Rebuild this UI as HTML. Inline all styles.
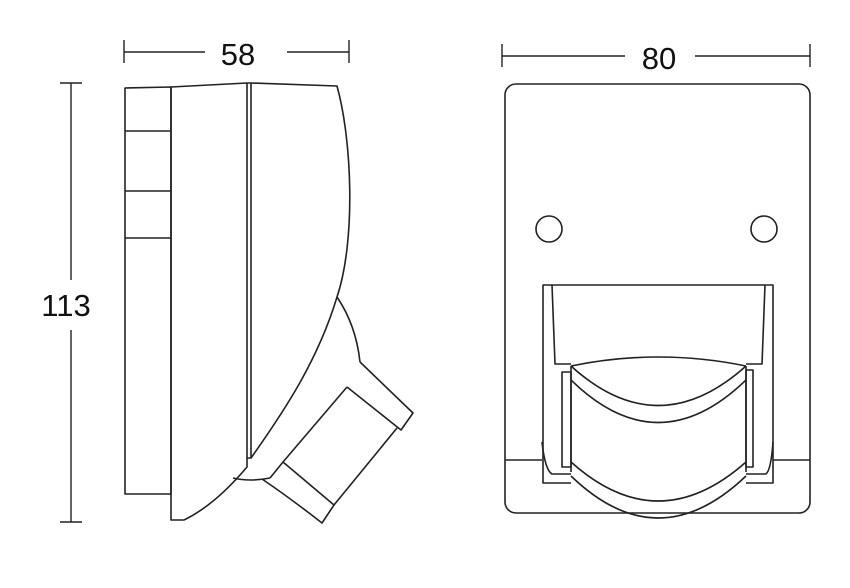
<!DOCTYPE html>
<html><head><style>html,body{margin:0;padding:0;background:#fff}svg{display:block}</style></head><body>
<svg width="850" height="588" viewBox="0 0 850 588" xmlns="http://www.w3.org/2000/svg" fill="none" stroke="#222" stroke-width="1.6" stroke-linejoin="round">
<g stroke-width="1.4">
<line x1="124" y1="40" x2="124" y2="63"/><line x1="349" y1="40" x2="349" y2="63"/>
<line x1="124" y1="52" x2="205" y2="52"/><line x1="287" y1="52" x2="349" y2="52"/>
<line x1="502" y1="44" x2="502" y2="67"/><line x1="810" y1="44" x2="810" y2="67"/>
<line x1="502" y1="56" x2="625" y2="56"/><line x1="695" y1="56" x2="810" y2="56"/>
<line x1="60" y1="83" x2="82" y2="83"/><line x1="60" y1="522" x2="82" y2="522"/>
<line x1="71" y1="83" x2="71" y2="280"/><line x1="71" y1="330" x2="71" y2="522"/>
</g>
<g fill="#111" stroke="none" font-family="Liberation Sans, sans-serif" font-size="31" text-anchor="middle">
<text x="238" y="65">58</text><text x="659" y="69">80</text><text x="66" y="316">113</text>
</g>
<path d="M125 88 L171 87 L171 494 L125 494 Z"/>
<line x1="125" y1="131" x2="171" y2="131"/><line x1="125" y1="191" x2="171" y2="191"/><line x1="125" y1="238" x2="171" y2="238"/>
<path d="M171 87 L247 83 L247 467 Q215 505 184 520 L171 520 Z"/>
<path d="M247 83 L251 83 L251 458 L247 458"/>
<path d="M251 83 L337 86 C352 140 356 240 337 297 C318 360 285 410 251 458"/>
<path d="M337 297 Q356 325 360 362"/>
<path d="M360 362 L413 413 L401 430 L347 387"/>
<path d="M397 428 L334 505"/>
<path d="M347 387 L283 462 L270 478"/>
<path d="M283 462 L334 505 L322 523 Q290 498 262 479"/>
<path d="M233 478 Q250 482 270 478"/>
<rect x="505" y="84" width="305" height="429" rx="11"/>
<circle cx="549" cy="229" r="13"/><circle cx="764" cy="229" r="13"/>
<line x1="505" y1="460" x2="542" y2="460"/><line x1="773" y1="460" x2="810" y2="460"/>
<path d="M571 483 L543 483 L543 285 L773 285 L773 483 L746 483"/>
<path d="M552 285 L555 364 L571 364 M746 364 L762 364 L765 285"/>
<path d="M571 366 Q658 348 746 366"/>
<rect x="562" y="372" width="9" height="95"/><rect x="746" y="370" width="7" height="97"/>
<path d="M542 442 Q545 470 552 474 L571 474 M746 474 L766 474 Q771 470 773 442"/>
<line x1="571" y1="366" x2="571" y2="472"/><line x1="746" y1="366" x2="746" y2="472"/>
<path d="M571 366 Q658 445 746 366"/>
<path d="M571 380 Q658 465 746 380"/>
<path d="M571 462 Q658 540 746 462"/>
<path d="M571 476 Q658 560 746 476"/>
</svg>
</body></html>
